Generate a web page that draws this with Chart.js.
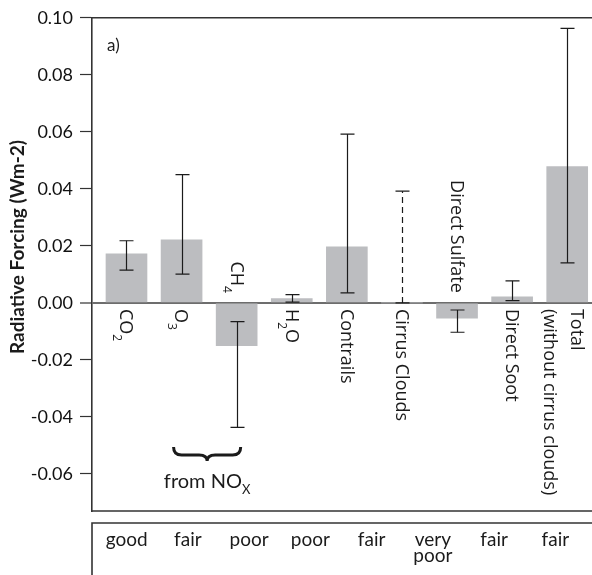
<!DOCTYPE html>
<html lang="en">
<head>
<meta charset="UTF-8">
<title>Radiative Forcing</title>
<script src="https://cdn.jsdelivr.net/npm/chart.js"></script>
<style>
  body { margin: 0; background: #fff; }
  canvas { display: block; }
</style>
</head>
<body>
<canvas id="rfChart" width="592" height="575"></canvas>
<script>
// "_" marks a one-character subscript, "\n" a second line
const categories = ['CO_2', 'O_3', 'CH_4', 'H_2O', 'Contrails', 'Cirrus Clouds', 'Direct Sulfate', 'Direct Soot', 'Total\n(without cirrus clouds)'];
const forcing  = [0.0172, 0.0221, -0.0150, 0.0015, 0.0197, 0.0000, -0.0054, 0.0021, 0.0478];
const errLow   = [0.0115, 0.0101, -0.0437, 0.0003, 0.0035, 0.0000, -0.0103, 0.0008, 0.0140];
const errHigh  = [0.0218, 0.0450, -0.0066, 0.0029, 0.0592, 0.0392, -0.0025, 0.0077, 0.0963];
const dashedErr  = [false, false, false, false, false, true, false, false, false];
const labelAbove = [false, false, true, false, false, false, true, false, false];
const yTicks = [-0.06, -0.04, -0.02, 0.00, 0.02, 0.04, 0.06, 0.08, 0.10];
const quality = ['good', 'fair', 'poor', 'poor', 'fair', 'very\npoor', 'fair', 'fair'];

const INK = '#1b1b1b';

function parts(str) {
    const bits = str.split('_');
    const out = [{ t: bits[0], sub: false }];
    for (let k = 1; k < bits.length; k++) {
        out.push({ t: bits[k][0], sub: true });
        if (bits[k].length > 1) out.push({ t: bits[k].slice(1), sub: false });
    }
    return out;
}

// draws text with subscripts along the current x direction, starting at x0
function drawRich(ctx, str, x0, y0, size, family, subSize, subDrop) {
    let x = x0;
    for (const p of parts(str)) {
        ctx.font = (p.sub ? subSize : size) + 'px ' + family;
        ctx.fillText(p.t, x, y0 + (p.sub ? subDrop : 0));
        x += ctx.measureText(p.t).width;
    }
}

function richWidth(ctx, str, size, family, subSize) {
    let w = 0;
    for (const p of parts(str)) {
        ctx.font = (p.sub ? subSize : size) + 'px ' + family;
        w += ctx.measureText(p.t).width;
    }
    return w;
}

const decorations = {
    id: 'decorations',
    afterDatasetsDraw(chart) {
        const ctx = chart.ctx;
        const xs = chart.scales.x, ys = chart.scales.y;
        const area = chart.chartArea;
        const zeroY = ys.getPixelForValue(0);

        ctx.save();

        // error bars
        ctx.strokeStyle = INK;
        ctx.lineWidth = 1.2;
        categories.forEach((_, i) => {
            const x = Math.round(xs.getPixelForValue(i)) + 0.5;
            const y1 = ys.getPixelForValue(errLow[i]);
            const y2 = ys.getPixelForValue(errHigh[i]);
            ctx.setLineDash(dashedErr[i] ? [6, 4] : []);
            ctx.beginPath();
            ctx.moveTo(x, y1);
            ctx.lineTo(x, y2);
            ctx.stroke();
            ctx.setLineDash([]);
            ctx.beginPath();
            ctx.moveTo(x - 7, y1); ctx.lineTo(x + 7, y1);
            ctx.moveTo(x - 7, y2); ctx.lineTo(x + 7, y2);
            ctx.stroke();
        });

        // category names, rotated, reading downwards
        const fam = '"Open Sans"';
        ctx.fillStyle = INK;
        ctx.textBaseline = 'middle';
        ctx.textAlign = 'left';
        categories.forEach((name, i) => {
            const x = xs.getPixelForValue(i);
            const lines = name.split('\n');
            lines.forEach((line, k) => {
                const off = lines.length > 1 ? (k === 0 ? 9 : -18) : -1;
                ctx.save();
                ctx.translate(x + off, zeroY);
                ctx.rotate(Math.PI / 2);
                let start = 6;
                if (labelAbove[i]) start = -10 - richWidth(ctx, line, 18, fam, 12);
                drawRich(ctx, line, start, 0, 18, fam, 12, 9);
                ctx.restore();
            });
        });

        // brace grouping O3 and CH4
        const bx1 = xs.getPixelForValue(1) - 8;
        const bx2 = xs.getPixelForValue(2) + 4;
        const bm = (bx1 + bx2) / 2;
        const bt = 447, bb = 455, tip = 461;
        ctx.strokeStyle = INK;
        ctx.lineWidth = 3;
        ctx.beginPath();
        ctx.moveTo(bx1, bt);
        ctx.quadraticCurveTo(bx1, bb, bx1 + 8, bb);
        ctx.lineTo(bm - 8, bb);
        ctx.quadraticCurveTo(bm, bb, bm, tip);
        ctx.quadraticCurveTo(bm, bb, bm + 8, bb);
        ctx.lineTo(bx2 - 8, bb);
        ctx.quadraticCurveTo(bx2, bb, bx2, bt);
        ctx.stroke();

        ctx.textBaseline = 'alphabetic';
        const nw = richWidth(ctx, 'from NO_X', 20, 'Lato', 13);
        drawRich(ctx, 'from NO_X', bm - nw / 2, 488, 20, 'Lato', 13, 6);

        // panel letter
        ctx.font = '17px Lato';
        ctx.fillText('a)', 107, 51);

        // frame of the plot
        ctx.strokeStyle = '#333';
        ctx.lineWidth = 1.6;
        ctx.beginPath();
        ctx.moveTo(area.left, area.top); ctx.lineTo(chart.width, area.top);
        ctx.moveTo(area.left, area.bottom); ctx.lineTo(chart.width, area.bottom);
        ctx.stroke();

        // axis title
        ctx.save();
        ctx.translate(18, 247);
        ctx.rotate(-Math.PI / 2);
        ctx.textAlign = 'center';
        ctx.textBaseline = 'middle';
        ctx.font = 'bold 19px Lato';
        ctx.fillText('Radiative Forcing (Wm-2)', 0, 0);
        ctx.restore();

        // quality box under the plot
        const boxTop = area.bottom + 12;
        ctx.beginPath();
        ctx.moveTo(area.left, chart.height); ctx.lineTo(area.left, boxTop); ctx.lineTo(chart.width, boxTop);
        ctx.stroke();
        ctx.font = '19px Lato';
        ctx.textAlign = 'center';
        const step = (area.right - area.left - 10) / quality.length;
        quality.forEach((q, i) => {
            const cx = area.left + 4 + (i + 0.5) * step;
            q.split('\n').forEach((line, k) => {
                ctx.fillText(line, cx, boxTop + 23 + k * 16);
            });
        });

        ctx.restore();
    }
};

new Chart(document.getElementById('rfChart'), {
    type: 'bar',
    data: {
        datasets: [{
            data: forcing.map((v, i) => ({ x: i, y: v })),
            backgroundColor: '#bcbdc0',
            borderWidth: 0,
            barThickness: 41
        }]
    },
    options: {
        responsive: false,
        devicePixelRatio: 1,
        animation: false,
        layout: { padding: { top: 15, bottom: 64, left: 0, right: 0 } },
        plugins: {
            legend: { display: false },
            tooltip: { enabled: false }
        },
        scales: {
            x: {
                type: 'linear',
                min: -0.626,
                max: 8.45,
                offset: false,
                display: false
            },
            y: {
                min: -0.073,
                max: 0.10,
                afterBuildTicks: s => { s.ticks = yTicks.map(v => ({ value: v })); },
                afterFit: s => { s.width = 92; },
                border: { display: true, color: '#333', width: 1.6 },
                grid: {
                    drawOnChartArea: true,
                    color: c => (c.tick && c.tick.value === 0) ? '#6d6d6d' : 'rgba(0,0,0,0)',
                    lineWidth: c => (c.tick && c.tick.value === 0) ? 2 : 1,
                    tickColor: '#333',
                    tickLength: 12,
                    tickWidth: 1.2
                },
                ticks: {
                    color: '#111',
                    font: { family: 'Lato', size: 18 },
                    padding: 7,
                    callback: v => v.toFixed(2)
                }
            }
        }
    },
    plugins: [decorations]
});
</script>
</body>
</html>
